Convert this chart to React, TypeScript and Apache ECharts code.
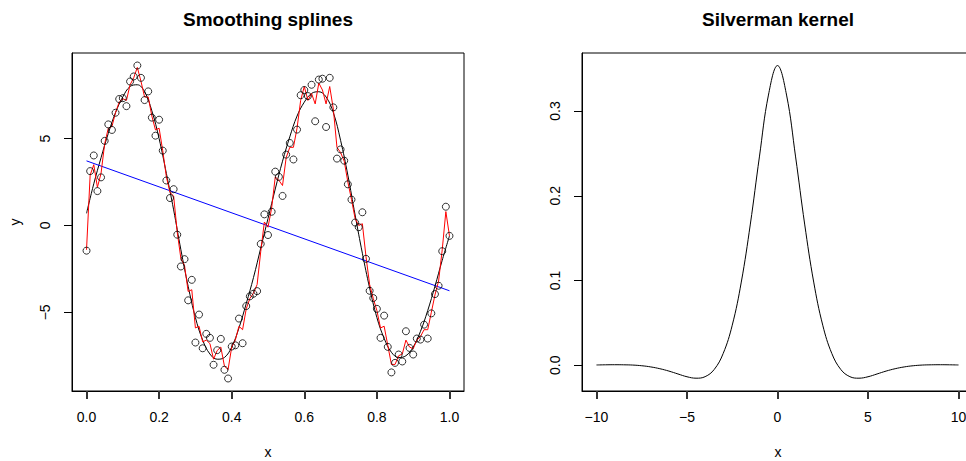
import React, { useEffect, useRef } from "react";
import * as echarts from "echarts";

const xs = [
  0, 0.01, 0.02, 0.03, 0.04, 0.05, 0.06, 0.07, 0.08, 0.09,
  0.1, 0.11, 0.12, 0.13, 0.14, 0.15, 0.16, 0.17, 0.18, 0.19,
  0.2, 0.21, 0.22, 0.23, 0.24, 0.25, 0.26, 0.27, 0.28, 0.29,
  0.3, 0.31, 0.32, 0.33, 0.34, 0.35, 0.36, 0.37, 0.38, 0.39,
  0.4, 0.41, 0.42, 0.43, 0.44, 0.45, 0.46, 0.47, 0.48, 0.49,
  0.5, 0.51, 0.52, 0.53, 0.54, 0.55, 0.56, 0.57, 0.58, 0.59,
  0.6, 0.61, 0.62, 0.63, 0.64, 0.65, 0.66, 0.67, 0.68, 0.69,
  0.7, 0.71, 0.72, 0.73, 0.74, 0.75, 0.76, 0.77, 0.78, 0.79,
  0.8, 0.81, 0.82, 0.83, 0.84, 0.85, 0.86, 0.87, 0.88, 0.89,
  0.9, 0.91, 0.92, 0.93, 0.94, 0.95, 0.96, 0.97, 0.98, 0.99, 1,
];

const pointsY = [
  -1.45, 3.13, 4.03, 1.98, 2.77, 4.87, 5.82, 5.5, 6.49, 7.28,
  7.33, 6.87, 8.29, 8.58, 9.21, 8.5, 7.22, 7.72, 6.21, 5.17,
  6.09, 4.31, 2.59, 1.58, 2.09, -0.53, -2.36, -1.94, -4.31, -3.13,
  -6.74, -5.13, -7.07, -6.24, -6.47, -8.02, -7.18, -6.53, -8.31, -8.81,
  -6.97, -6.9, -5.36, -6.78, -4.64, -4.08, -3.93, -3.78, -1.06, 0.64,
  -0.55, 0.79, 3.1, 2.8, 1.7, 4.08, 4.75, 3.8, 5.52, 7.5,
  7.8, 7.45, 8.1, 6.0, 8.4, 8.45, 5.67, 8.5, 6.8, 3.85,
  4.38, 3.73, 2.37, 1.49, 0.17, -0.1, 0.76, -1.92, -3.76, -4.18,
  -4.8, -6.47, -5.19, -6.99, -8.46, -7.91, -7.43, -7.83, -6.09, -7.05,
  -7.43, -6.51, -6.57, -5.71, -6.51, -5.06, -3.95, -3.47, -1.48, 1.08, -0.6,
];

const roughFit = [
  -1.4, 2.9, 3.5, 2.2, 3.0, 4.7, 5.6, 5.7, 6.5, 7.1,
  7.3, 7.2, 8.1, 8.5, 9.1, 8.3, 7.4, 7.4, 6.3, 5.5,
  5.6, 4.3, 2.8, 1.9, 1.7, -0.4, -1.9, -2.3, -3.8, -3.7,
  -5.9, -5.8, -6.7, -6.6, -6.8, -7.7, -7.2, -7.0, -8.1, -8.3,
  -7.0, -6.6, -5.8, -6.0, -4.8, -4.2, -3.9, -3.4, -1.5, 0.2,
  -0.1, 1.0, 2.8, 2.6, 2.3, 3.9, 4.5, 4.5, 5.6, 7.2,
  8.0, 7.2, 7.6, 7.0, 8.2, 7.8, 7.0, 8.0, 6.7, 4.5,
  4.2, 3.7, 2.5, 1.5, 0.4, 0.0, 0.1, -1.8, -3.4, -4.2,
  -4.9, -5.9, -5.8, -6.9, -8.0, -8.0, -7.5, -7.4, -6.6, -7.0,
  -7.1, -6.6, -6.4, -6.0, -6.0, -5.0, -4.0, -3.2, -1.4, 0.8, -0.6,
];

const smoothX = [
  0, 0.02, 0.04, 0.06, 0.08, 0.1, 0.12, 0.14, 0.16, 0.18,
  0.2, 0.22, 0.24, 0.26, 0.28, 0.3, 0.32, 0.34, 0.36, 0.38,
  0.4, 0.42, 0.44, 0.46, 0.48, 0.5, 0.52, 0.54, 0.56, 0.58,
  0.6, 0.62, 0.64, 0.66, 0.68, 0.7, 0.72, 0.74, 0.76, 0.78,
  0.8, 0.82, 0.84, 0.86, 0.88, 0.9, 0.92, 0.94, 0.96, 0.98, 1,
];
const smoothFit = [
  0.7, 2.4, 3.9, 5.3, 6.5, 7.4, 8.0, 8.1, 7.7, 6.6,
  5.0, 3.0, 0.9, -1.4, -3.5, -5.3, -6.6, -7.4, -7.7, -7.6,
  -7.0, -5.9, -4.5, -3.0, -1.3, 0.4, 2.1, 3.7, 5.1, 6.3,
  7.1, 7.6, 7.7, 7.4, 6.5, 4.9, 2.9, 0.6, -1.6, -3.6,
  -5.3, -6.5, -7.3, -7.6, -7.5, -7.0, -6.1, -4.9, -3.5, -2.0, -0.6,
];

const lineX = [0, 1];
const lineY = [3.72, -3.76];

const kernelX = [
  -10, -9.5, -9, -8.5, -8, -7.5, -7, -6.5, -6, -5.5, -5, -4.5, -4, -3.5, -3, -2.5, -2, -1.5, -1, -0.5,
  0, 0.5, 1, 1.5, 2, 2.5, 3, 3.5, 4, 4.5, 5, 5.5, 6, 6.5, 7, 7.5, 8, 8.5, 9, 9.5, 10,
];
const kernelY = [
  0.0004, 0.0006, 0.0007, 0.0006, 0.0003, -0.0005, -0.0019, -0.004, -0.0068, -0.0102,
  -0.0135, -0.0152, -0.0134, -0.005, 0.014, 0.0473, 0.0982, 0.1666, 0.2458, 0.3188,
  0.3536,
  0.3188, 0.2458, 0.1666, 0.0982, 0.0473, 0.014, -0.005, -0.0134, -0.0152, -0.0135,
  -0.0102, -0.0068, -0.004, -0.0019, -0.0005, 0.0003, 0.0006, 0.0007, 0.0006, 0.0004,
];

const leftXTicks = [0, 0.2, 0.4, 0.6, 0.8, 1.0];
const leftYTicks = [-5, 0, 5];
const rightXTicks = [-10, -5, 0, 5, 10];
const rightYTicks = [0, 0.1, 0.2, 0.3];

const FONT = "'Liberation Sans', Arial, Helvetica, sans-serif";
const minus = (s: string) => s.replace("-", "\u2212");

export default function App() {
  const ref = useRef<HTMLDivElement>(null);
  useEffect(() => {
    if (!ref.current) return;
    const chart = echarts.init(ref.current, null, { renderer: "svg" });
    const labelStyle = () => ({ color: "#000", fontFamily: FONT, fontSize: 14 });
    const tickStyle = (vals: number[], w: number, c: string) => ({ show: true, length: 8, lineStyle: { color: c, width: w }, customValues: vals });
    const axisLine = () => ({ show: true, onZero: false, lineStyle: { color: "#000", width: 1 } });
    const zip = (a: number[], b: number[]) => a.map((v, i) => [v, b[i]]);
    chart.setOption({
      animation: false,
      grid: [
        { left: 72, top: 53, width: 392, height: 338, show: true, borderColor: "#000", borderWidth: 1 },
        { left: 582, top: 53, width: 391, height: 338, show: true, borderColor: "#000", borderWidth: 1 },
      ],
      xAxis: [
        {
          type: "value", gridIndex: 0, min: -0.04, max: 1.04,
          axisLine: axisLine(), splitLine: { show: false },
          axisTick: tickStyle(leftXTicks, 2, "#333"),
          axisLabel: { ...labelStyle(), margin: 19, customValues: leftXTicks, formatter: (v: number) => v.toFixed(1) },
        },
        {
          type: "value", gridIndex: 1, min: -10.8, max: 10.8,
          axisLine: axisLine(), splitLine: { show: false },
          axisTick: tickStyle(rightXTicks, 2, "#333"),
          axisLabel: { ...labelStyle(), margin: 19, customValues: rightXTicks, formatter: (v: number) => minus(String(v)) },
        },
      ],
      yAxis: [
        {
          type: "value", gridIndex: 0, min: -9.53, max: 9.93,
          axisLine: axisLine(), splitLine: { show: false },
          axisTick: tickStyle(leftYTicks, 1, "#000"),
          axisLabel: { ...labelStyle(), margin: 20, rotate: 90, customValues: leftYTicks, formatter: (v: number) => minus(String(v)) },
        },
        {
          type: "value", gridIndex: 1, min: -0.0303, max: 0.3684,
          axisLine: axisLine(), splitLine: { show: false },
          axisTick: tickStyle(rightYTicks, 1, "#000"),
          axisLabel: { ...labelStyle(), margin: 20, rotate: 90, customValues: rightYTicks, formatter: (v: number) => v.toFixed(1) },
        },
      ],
      series: [
        {
          type: "line", xAxisIndex: 0, yAxisIndex: 0, data: zip(xs, roughFit),
          showSymbol: false, lineStyle: { color: "#ff0000", width: 1 }, z: 3,
        },
        {
          type: "line", xAxisIndex: 0, yAxisIndex: 0, data: zip(smoothX, smoothFit),
          showSymbol: false, smooth: 0.4, lineStyle: { color: "#000", width: 1 }, z: 2,
        },
        {
          type: "line", xAxisIndex: 0, yAxisIndex: 0, data: zip(lineX, lineY),
          showSymbol: false, lineStyle: { color: "#0000ff", width: 1 }, z: 2,
        },
        {
          type: "scatter", xAxisIndex: 0, yAxisIndex: 0, data: zip(xs, pointsY),
          symbol: "circle", symbolSize: 7,
          itemStyle: { color: "rgba(0,0,0,0)", borderColor: "#000", borderWidth: 1 }, z: 4,
        },
        {
          type: "line", xAxisIndex: 1, yAxisIndex: 1, data: zip(kernelX, kernelY),
          showSymbol: false, smooth: 0.4, lineStyle: { color: "#000", width: 1 },
        },
      ],
      graphic: [
        { type: "text", x: 268, y: 19, style: { text: "Smoothing splines", fill: "#000", font: `bold 19px ${FONT}`, textAlign: "center", textVerticalAlign: "middle" } },
        { type: "text", x: 778, y: 19, style: { text: "Silverman kernel", fill: "#000", font: `bold 19px ${FONT}`, textAlign: "center", textVerticalAlign: "middle" } },
        { type: "text", x: 268, y: 452, style: { text: "x", fill: "#000", font: `14px ${FONT}`, textAlign: "center", textVerticalAlign: "middle" } },
        { type: "text", x: 778, y: 452, style: { text: "x", fill: "#000", font: `14px ${FONT}`, textAlign: "center", textVerticalAlign: "middle" } },
        { type: "text", x: 15, y: 222, rotation: Math.PI / 2, style: { text: "y", fill: "#000", font: `14px ${FONT}`, textAlign: "center", textVerticalAlign: "middle" } },
      ],
    });
    return () => chart.dispose();
  }, []);
  return (
    <div style={{ position: "fixed", left: 0, top: 0, width: 966, height: 461, overflow: "hidden", background: "#fff" }}>
      <div ref={ref} style={{ width: 990, height: 461 }} />
    </div>
  );
}
